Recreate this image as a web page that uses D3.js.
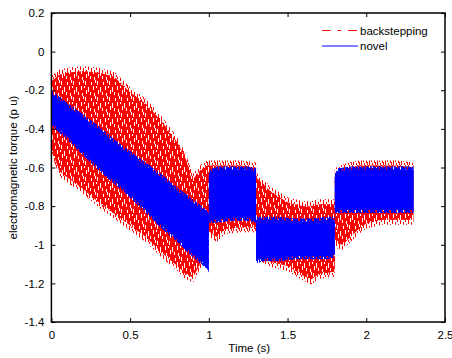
<!DOCTYPE html>
<html>
<head>
<meta charset="utf-8">
<script src="https://cdn.jsdelivr.net/npm/d3@7"></script>
<style>
  body { margin: 0; background: #fff; }
  svg { font-family: "Liberation Sans", Arial, sans-serif; }
</style>
</head>
<body>
<div id="chart"></div>
<script>
// Envelopes of the two torque traces (p u)

const redTime = [0, 0.004, 0.05, 0.1, 0.2, 0.3, 0.4, 0.5, 0.6, 0.7, 0.8, 0.85, 0.9, 0.95, 0.99,
                 1.0, 1.05, 1.1, 1.2, 1.3,
                 1.3, 1.35, 1.4, 1.5, 1.6, 1.65, 1.7, 1.8,
                 1.8, 1.85, 1.9, 1.95, 2.0, 2.1, 2.2, 2.3];
const redHigh = [0, -0.15, -0.12, -0.11, -0.10, -0.11, -0.13, -0.21, -0.27, -0.36, -0.47, -0.55, -0.66, -0.61, -0.59,
                 -0.59, -0.59, -0.59, -0.59, -0.60,
                 -0.65, -0.69, -0.73, -0.78, -0.80, -0.80, -0.79, -0.79,
                 -0.63, -0.61, -0.60, -0.59, -0.59, -0.59, -0.59, -0.60];
const redLow  = [-0.05, -0.51, -0.62, -0.65, -0.71, -0.78, -0.84, -0.90, -0.96, -1.04, -1.11, -1.15, -1.17, -1.09, -0.95,
                 -0.93, -0.96, -0.92, -0.91, -0.91,
                 -1.04, -1.07, -1.09, -1.11, -1.16, -1.18, -1.15, -1.14,
                 -0.99, -1.00, -0.96, -0.92, -0.89, -0.87, -0.87, -0.87];

const blueTime = [0, 0.004, 0.1, 0.2, 0.3, 0.4, 0.5, 0.6, 0.7, 0.8, 0.9, 0.99, 1.0,
                  1.0, 1.05, 1.15, 1.25, 1.3,
                  1.3, 1.35, 1.45, 1.55, 1.65, 1.75, 1.8,
                  1.8, 1.82, 1.9, 2.0, 2.1, 2.2, 2.3];
const blueHigh = [0, -0.22, -0.28, -0.34, -0.40, -0.47, -0.53, -0.59, -0.65, -0.72, -0.78, -0.84, -0.84,
                  -0.63, -0.61, -0.61, -0.61, -0.62,
                  -0.87, -0.87, -0.87, -0.88, -0.88, -0.87, -0.87,
                  -0.65, -0.62, -0.61, -0.61, -0.61, -0.61, -0.61];
const blueLow  = [-0.05, -0.37, -0.44, -0.52, -0.60, -0.67, -0.74, -0.82, -0.90, -0.97, -1.05, -1.11, -1.13,
                  -0.87, -0.87, -0.86, -0.86, -0.87,
                  -1.08, -1.07, -1.07, -1.06, -1.06, -1.06, -1.05,
                  -0.82, -0.82, -0.82, -0.82, -0.82, -0.82, -0.82];

const xTicks = [0, 0.5, 1, 1.5, 2, 2.5];
const yTicks = [-1.4, -1.2, -1, -0.8, -0.6, -0.4, -0.2, 0, 0.2];
const legendLabels = ["backstepping", "novel"];

const width = 452, height = 358;
const mLeft = 51.4, mRight = 445, mTop = 13, mBottom = 322;

const svg = d3.select("#chart").append("svg")
    .attr("width", width)
    .attr("height", height);

const x = d3.scaleLinear().domain([0, 2.5]).range([mLeft, mRight]);
const y = d3.scaleLinear().domain([-1.4, 0.2]).range([mBottom, mTop]);

const defs = svg.append("defs");

// pattern = a tile of 1px vertical bars [col, y, h] over an optional background
function makePattern(id, w, h, bg, color, bars) {
    const p = defs.append("pattern")
        .attr("id", id)
        .attr("patternUnits", "userSpaceOnUse")
        .attr("width", w).attr("height", h);
    if (bg) p.append("rect").attr("width", w).attr("height", h).attr("fill", bg);
    bars.forEach(([c, y0, bh]) => {
        p.append("rect").attr("x", c).attr("y", y0).attr("width", 1).attr("height", bh).attr("fill", color);
    });
}

// red body: red with white streaks between dashes
makePattern("redDash", 12, 16, "#ff0000", "#fff",
    [[1, 1, 4], [4, 7, 5], [7, 2, 3], [2, 10, 4], [6, 12, 3], [9, 6, 4], [11, 0, 3], [10, 13, 3], [0, 6, 2]]);
// fringes: vertical spikes poking past the envelope
makePattern("redFringe", 8, 11, null, "#ff0000",
    [[0, 0, 4], [1, 6, 5], [3, 2, 6], [4, 9, 2], [5, 0, 2], [6, 4, 5], [7, 8, 3]]);
makePattern("blueFringe", 7, 9, null, "#0000ff",
    [[0, 0, 9], [1, 0, 5], [2, 3, 6], [3, 0, 9], [4, 5, 4], [5, 0, 3], [5, 6, 3], [6, 2, 5]]);

const plot = svg.append("g");

const redData = redTime.map((t, i) => ({ t, lo: redLow[i], hi: redHigh[i] }));
const blueData = blueTime.map((t, i) => ({ t, lo: blueLow[i], hi: blueHigh[i] }));

const area = d3.area()
    .x(d => x(d.t))
    .y0(d => y(d.lo))
    .y1(d => y(d.hi));

const fringe = pad => d3.area()
    .x(d => x(d.t))
    .y0(d => y(d.lo) + pad)
    .y1(d => y(d.hi) - pad);

plot.append("path")
    .datum(redData)
    .attr("d", fringe(5))
    .attr("fill", "url(#redFringe)");
plot.append("path")
    .datum(redData)
    .attr("d", area)
    .attr("fill", "url(#redDash)");

plot.append("path")
    .datum(blueData)
    .attr("d", fringe(3))
    .attr("fill", "url(#blueFringe)");
plot.append("path")
    .datum(blueData)
    .attr("d", area)
    .attr("fill", "#0000ff");

// axes, ticks pointing inward on every side
const fmt = d => String(+d.toFixed(1));

svg.append("g")
    .attr("transform", `translate(0,${mBottom})`)
    .call(d3.axisBottom(x).tickValues(xTicks).tickFormat(fmt).tickSizeInner(-4).tickSizeOuter(0).tickPadding(9));
svg.append("g")
    .attr("transform", `translate(${mLeft},0)`)
    .call(d3.axisLeft(y).tickValues(yTicks).tickFormat(fmt).tickSizeInner(-4).tickSizeOuter(0).tickPadding(7));
svg.append("g")
    .attr("transform", `translate(0,${mTop})`)
    .call(d3.axisTop(x).tickValues(xTicks).tickFormat("").tickSizeInner(-4).tickSizeOuter(0));
svg.append("g")
    .attr("transform", `translate(${mRight},0)`)
    .call(d3.axisRight(y).tickValues(yTicks).tickFormat("").tickSizeInner(-4).tickSizeOuter(0));

svg.selectAll(".domain").remove();
svg.selectAll(".tick line").attr("stroke", "#000").attr("stroke-width", 1);
svg.selectAll(".tick text").attr("fill", "#000").style("font-size", "11.5px");

svg.append("rect")
    .attr("x", mLeft).attr("y", mTop)
    .attr("width", mRight - mLeft).attr("height", mBottom - mTop)
    .attr("fill", "none")
    .attr("stroke", "#000")
    .attr("stroke-width", 1.5);

svg.append("text")
    .attr("x", (mLeft + mRight) / 2 + 1)
    .attr("y", 352)
    .attr("text-anchor", "middle")
    .style("font-size", "11.5px")
    .text("Time (s)");

svg.append("text")
    .attr("transform", `translate(17,${(mTop + mBottom) / 2}) rotate(-90)`)
    .attr("text-anchor", "middle")
    .style("font-size", "11.5px")
    .text("electromagnetic torque (p u)");

// legend
const legend = svg.append("g");
legend.append("line")
    .attr("x1", 322).attr("x2", 358).attr("y1", 30.5).attr("y2", 30.5)
    .attr("stroke", "#ff0000").attr("stroke-width", 1)
    .attr("stroke-dasharray", "8.5,7,3.5,7,9");
legend.append("line")
    .attr("x1", 322).attr("x2", 358).attr("y1", 46).attr("y2", 46)
    .attr("stroke", "#0000ff").attr("stroke-width", 1);
legendLabels.forEach((label, i) => {
    legend.append("text")
        .attr("x", 360)
        .attr("y", 30.5 + i * 15.5)
        .attr("dy", "0.35em")
        .style("font-size", "11.5px")
        .text(label);
});
</script>
</body>
</html>
